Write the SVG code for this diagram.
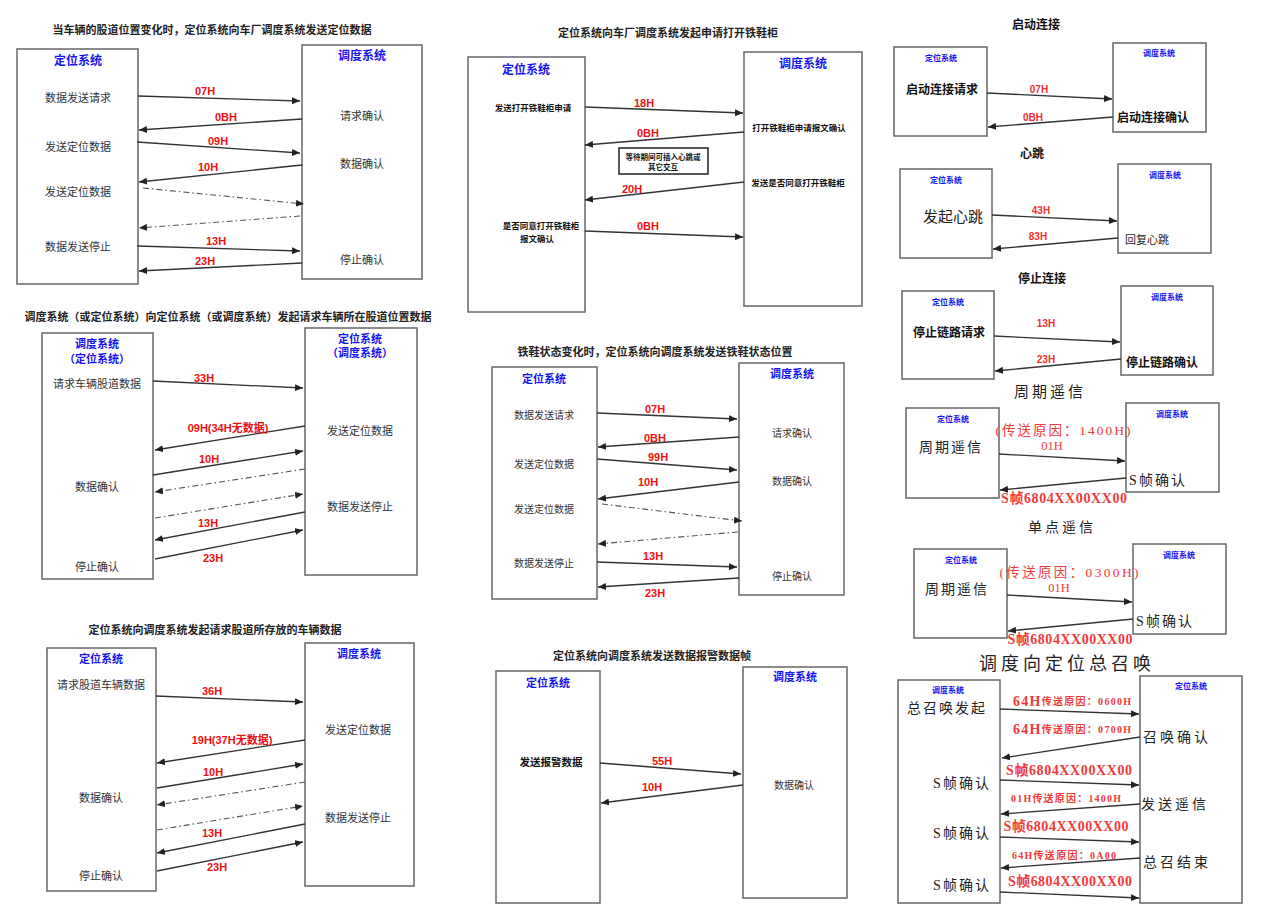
<svg xmlns="http://www.w3.org/2000/svg" width="1269" height="913" viewBox="0 0 1269 913">
<defs>
<marker id="ah" markerUnits="userSpaceOnUse" markerWidth="9" markerHeight="7" refX="8" refY="3.5" orient="auto"><path d="M0,0 L8,3.5 L0,7 z" fill="#222"/></marker>
<style>
text{font-family:"Noto Sans CJK SC",sans-serif;dominant-baseline:central;text-anchor:middle;font-size:11px;fill:#333}
.ttl{font-weight:bold;fill:#222}
.bl{fill:#1414f0;font-weight:bold;font-size:12px}
.bs{fill:#1414f0;font-weight:bold;font-size:8px}
.r{fill:#f01010;font-weight:bold;font-family:"Liberation Sans","Noto Sans CJK SC",sans-serif}
.rs{fill:#f03030;font-weight:bold;font-family:"Liberation Sans",sans-serif;font-size:10px}
.sm{font-size:8.5px;font-weight:bold;fill:#111}
.b12{font-size:12px;font-weight:bold;fill:#111}
.se{font-family:"Liberation Serif","Noto Sans CJK SC",serif;fill:#222}
.rse{font-family:"Liberation Serif","Noto Sans CJK SC",serif;fill:#f03a3a;font-weight:bold}
.box{fill:#fff;stroke:#666;stroke-width:1.5}
.ln{stroke:#333;stroke-width:1.3;fill:none;marker-end:url(#ah)}
.dd{stroke:#555;stroke-width:1.1;fill:none;stroke-dasharray:6 3 1.5 3;marker-end:url(#ah)}
</style>
</defs>
<rect width="1269" height="913" fill="#fff"/>

<!-- Panel 1 -->
<g id="p1">
<text class="ttl" x="212" y="29">当车辆的股道位置变化时，定位系统向车厂调度系统发送定位数据</text>
<rect class="box" x="17" y="49" width="121" height="235"/>
<rect class="box" x="302" y="45" width="120" height="234"/>
<text class="bl" x="78" y="59">定位系统</text>
<text class="bl" x="362" y="54">调度系统</text>
<text x="78" y="97">数据发送请求</text>
<text x="78" y="146">发送定位数据</text>
<text x="78" y="191">发送定位数据</text>
<text x="78" y="246">数据发送停止</text>
<text x="362" y="115">请求确认</text>
<text x="362" y="163">数据确认</text>
<text x="362" y="259">停止确认</text>
</g>

<!-- Panel 2 -->
<g id="p2">
<text class="ttl" x="668" y="32">定位系统向车厂调度系统发起申请打开铁鞋柜</text>
<rect class="box" x="468" y="57" width="117" height="255"/>
<rect class="box" x="744" y="52" width="118" height="254"/>
<text class="bl" x="526" y="68">定位系统</text>
<text class="bl" x="803" y="62">调度系统</text>
<text class="sm" x="533" y="107">发送打开铁鞋柜申请</text>
<text class="sm" x="541" y="225">是否同意打开铁鞋柜</text>
<text class="sm" x="537" y="238">报文确认</text>
<text class="sm" x="799" y="127">打开铁鞋柜申请报文确认</text>
<text class="sm" x="798" y="182">发送是否同意打开铁鞋柜</text>
<rect x="619" y="148" width="89" height="26" fill="#fff" stroke="#222" stroke-width="1.5"/>
<text class="sm" x="663" y="156" style="font-size:7.5px">等待期间可插入心跳或</text>
<text class="sm" x="663" y="166" style="font-size:7.5px">其它交互</text>
</g>

<!-- Panel 3 启动连接 -->
<g id="p3">
<text class="b12" x="1036" y="23">启动连接</text>
<rect class="box" x="894" y="47" width="93" height="89"/>
<rect class="box" x="1113" y="43" width="93" height="89"/>
<text class="bs" x="941" y="57">定位系统</text>
<text class="bs" x="1159" y="52">调度系统</text>
<text class="b12" x="942" y="88">启动连接请求</text>
<text class="b12" x="1153" y="116">启动连接确认</text>
</g>

<!-- Panel 4 心跳 -->
<g id="p4">
<text class="b12" x="1032" y="152">心跳</text>
<rect class="box" x="900" y="169" width="92" height="89"/>
<rect class="box" x="1118" y="164" width="93" height="89"/>
<text class="bs" x="946" y="179">定位系统</text>
<text class="bs" x="1165" y="174">调度系统</text>
<text x="953" y="215" style="font-size:15px;fill:#222">发起心跳</text>
<text x="1147" y="239" style="font-size:11px;fill:#222">回复心跳</text>
</g>

<!-- Panel 5 停止连接 -->
<g id="p5">
<text class="b12" x="1042" y="277">停止连接</text>
<rect class="box" x="902" y="291" width="92" height="88"/>
<rect class="box" x="1121" y="286" width="92" height="89"/>
<text class="bs" x="948" y="301">定位系统</text>
<text class="bs" x="1167" y="296">调度系统</text>
<text class="b12" x="949" y="331">停止链路请求</text>
<text class="b12" x="1162" y="361">停止链路确认</text>
</g>

<!-- Panel 6 周期遥信 -->
<g id="p6">
<text class="se" x="1050" y="392" style="font-size:15px;letter-spacing:3px">周期遥信</text>
<rect class="box" x="906" y="408" width="93" height="90"/>
<rect class="box" x="1126" y="403" width="93" height="89"/>
<text class="bs" x="953" y="418">定位系统</text>
<text class="bs" x="1172" y="413">调度系统</text>
<text class="se" x="951" y="447" style="font-size:14px;letter-spacing:2px">周期遥信</text>
<text class="se" x="1158" y="480" style="font-size:14px;letter-spacing:2px">S帧确认</text>
</g>

<!-- Panel 7 单点遥信 -->
<g id="p7">
<text class="se" x="1062" y="527" style="font-size:14px;letter-spacing:3px">单点遥信</text>
<rect class="box" x="914" y="549" width="93" height="89"/>
<rect class="box" x="1133" y="544" width="93" height="90"/>
<text class="bs" x="961" y="559">定位系统</text>
<text class="bs" x="1179" y="554">调度系统</text>
<text class="se" x="957" y="589" style="font-size:14px;letter-spacing:2px">周期遥信</text>
<text class="se" x="1165" y="621" style="font-size:14px;letter-spacing:2px">S帧确认</text>
</g>

<!-- Panel 8 总召唤 -->
<g id="p8">
<text class="se" x="1067" y="664" style="font-size:18px;letter-spacing:4px">调度向定位总召唤</text>
<rect class="box" x="898" y="680" width="102" height="223"/>
<rect class="box" x="1140" y="676" width="102" height="227"/>
<text class="bs" x="948" y="689">调度系统</text>
<text class="bs" x="1191" y="685">定位系统</text>
<text class="se" x="947" y="708" style="font-size:14px;letter-spacing:2px">总召唤发起</text>
<text class="se" x="1177" y="737" style="font-size:14px;letter-spacing:3px">召唤确认</text>
<text class="se" x="1175" y="804" style="font-size:14px;letter-spacing:3px">发送遥信</text>
<text class="se" x="1177" y="862" style="font-size:14px;letter-spacing:3px">总召结束</text>
<text class="se" x="962" y="783" style="font-size:14px;letter-spacing:2px">S帧确认</text>
<text class="se" x="962" y="833" style="font-size:14px;letter-spacing:2px">S帧确认</text>
<text class="se" x="962" y="885" style="font-size:14px;letter-spacing:2px">S帧确认</text>
</g>

<!-- Panel 9 -->
<g id="p9">
<text class="ttl" x="228" y="316">调度系统（或定位系统）向定位系统（或调度系统）发起请求车辆所在股道位置数据</text>
<rect class="box" x="42" y="333" width="111" height="246"/>
<rect class="box" x="305" y="328" width="112" height="247"/>
<text class="bl" x="97" y="343" style="font-size:11px">调度系统</text>
<text class="bl" x="97" y="358" style="font-size:11px">（定位系统）</text>
<text class="bl" x="360" y="338" style="font-size:11px">定位系统</text>
<text class="bl" x="360" y="352" style="font-size:11px">（调度系统）</text>
<text x="97" y="383">请求车辆股道数据</text>
<text x="97" y="486">数据确认</text>
<text x="97" y="566">停止确认</text>
<text x="360" y="430">发送定位数据</text>
<text x="360" y="506">数据发送停止</text>
</g>

<!-- Panel 10 -->
<g id="p10">
<text class="ttl" x="655" y="351">铁鞋状态变化时，定位系统向调度系统发送铁鞋状态位置</text>
<rect class="box" x="492" y="367" width="105" height="232"/>
<rect class="box" x="739" y="363" width="105" height="232"/>
<text class="bl" x="544" y="378" style="font-size:11px">定位系统</text>
<text class="bl" x="792" y="373" style="font-size:11px">调度系统</text>
<text x="544" y="414" style="font-size:10px">数据发送请求</text>
<text x="544" y="463" style="font-size:10px">发送定位数据</text>
<text x="544" y="508" style="font-size:10px">发送定位数据</text>
<text x="544" y="562" style="font-size:10px">数据发送停止</text>
<text x="792" y="432" style="font-size:10px">请求确认</text>
<text x="792" y="480" style="font-size:10px">数据确认</text>
<text x="792" y="575" style="font-size:10px">停止确认</text>
</g>

<!-- Panel 11 -->
<g id="p11">
<text class="ttl" x="215" y="629">定位系统向调度系统发起请求股道所存放的车辆数据</text>
<rect class="box" x="47" y="648" width="109" height="243"/>
<rect class="box" x="305" y="643" width="109" height="243"/>
<text class="bl" x="101" y="658" style="font-size:11px">定位系统</text>
<text class="bl" x="359" y="653" style="font-size:11px">调度系统</text>
<text x="101" y="684">请求股道车辆数据</text>
<text x="101" y="797">数据确认</text>
<text x="101" y="875">停止确认</text>
<text x="358" y="729">发送定位数据</text>
<text x="358" y="817">数据发送停止</text>
</g>

<!-- Panel 12 -->
<g id="p12">
<text class="ttl" x="652" y="655">定位系统向调度系统发送数据报警数据帧</text>
<rect class="box" x="496" y="671" width="104" height="232"/>
<rect class="box" x="743" y="667" width="104" height="231"/>
<text class="bl" x="548" y="682" style="font-size:11px">定位系统</text>
<text class="bl" x="795" y="676" style="font-size:11px">调度系统</text>
<text x="551" y="761" style="font-weight:bold;fill:#111;font-size:10.5px">发送报警数据</text>
<text x="794" y="784" style="font-size:10px">数据确认</text>
</g>

<g id="connectors">
<!-- p1 -->
<line class="ln" x1="138" y1="96" x2="300" y2="101"/><text class="r" x="205" y="91">07H</text>
<line class="ln" x1="302" y1="119" x2="139" y2="130"/><text class="r" x="226" y="117">0BH</text>
<line class="ln" x1="137" y1="142" x2="300" y2="153"/><text class="r" x="218" y="141">09H</text>
<line class="ln" x1="302" y1="165" x2="139" y2="182"/><text class="r" x="208" y="167">10H</text>
<line class="dd" x1="143" y1="188" x2="304" y2="204"/>
<line class="dd" x1="300" y1="216" x2="139" y2="228"/>
<line class="ln" x1="137" y1="246" x2="300" y2="251"/><text class="r" x="216" y="241">13H</text>
<line class="ln" x1="302" y1="263" x2="139" y2="271"/><text class="r" x="205" y="261">23H</text>
<!-- p2 -->
<line class="ln" x1="585" y1="107" x2="743" y2="113"/><text class="r" x="644" y="103">18H</text>
<line class="ln" x1="744" y1="132" x2="585" y2="145"/><text class="r" x="648" y="133">0BH</text>
<line class="ln" x1="744" y1="182" x2="585" y2="200"/><text class="r" x="632" y="189">20H</text>
<line class="ln" x1="585" y1="231" x2="743" y2="237"/><text class="r" x="648" y="226">0BH</text>
<!-- p3 -->
<line class="ln" x1="987" y1="93" x2="1112" y2="99"/><text class="rs" x="1039" y="89">07H</text>
<line class="ln" x1="1113" y1="117" x2="988" y2="127"/><text class="rs" x="1033" y="117">0BH</text>
<!-- p4 -->
<line class="ln" x1="992" y1="215" x2="1117" y2="221"/><text class="rs" x="1041" y="210">43H</text>
<line class="ln" x1="1118" y1="238" x2="993" y2="249"/><text class="rs" x="1038" y="236">83H</text>
<!-- p5 -->
<line class="ln" x1="994" y1="336" x2="1120" y2="342"/><text class="rs" x="1046" y="323">13H</text>
<line class="ln" x1="1121" y1="359" x2="995" y2="371"/><text class="rs" x="1046" y="359">23H</text>
<!-- p6 -->
<text class="rse" x="1063" y="430" style="font-size:13.5px;font-weight:normal" textLength="135" lengthAdjust="spacing">(传送原因：1400H)</text>
<text class="rse" x="1052" y="446" style="font-size:12.5px;font-weight:normal">01H</text>
<line class="ln" x1="999" y1="454" x2="1125" y2="461"/>
<line class="ln" x1="1126" y1="478" x2="1000" y2="490"/>
<text class="rse" x="1064" y="498" style="font-size:14px" textLength="126" lengthAdjust="spacing">S帧6804XX00XX00</text>
<!-- p7 -->
<text class="rse" x="1069" y="572" style="font-size:13.5px;font-weight:normal" textLength="139" lengthAdjust="spacing">(传送原因：0300H)</text>
<text class="rse" x="1059" y="588" style="font-size:12.5px;font-weight:normal">01H</text>
<line class="ln" x1="1007" y1="595" x2="1132" y2="602"/>
<line class="ln" x1="1133" y1="619" x2="1008" y2="631"/>
<text class="rse" x="1070" y="639" style="font-size:14px" textLength="125" lengthAdjust="spacing">S帧6804XX00XX00</text>
<!-- p8 -->
<text class="rse" x="1072" y="701" textLength="118" lengthAdjust="spacing"><tspan style="font-size:14px">64H</tspan><tspan style="font-size:10px">传送原因：0600H</tspan></text>
<line class="ln" x1="1000" y1="709" x2="1139" y2="714"/>
<text class="rse" x="1072" y="729" textLength="118" lengthAdjust="spacing"><tspan style="font-size:14px">64H</tspan><tspan style="font-size:10px">传送原因：0700H</tspan></text>
<line class="ln" x1="1140" y1="737" x2="1002" y2="758"/>
<text class="rse" x="1069" y="770" style="font-size:14px" textLength="126" lengthAdjust="spacing">S帧6804XX00XX00</text>
<line class="ln" x1="1000" y1="780" x2="1139" y2="785"/>
<text class="rse" x="1066" y="798" style="font-size:10px" textLength="110" lengthAdjust="spacing">01H传送原因：1400H</text>
<line class="ln" x1="1140" y1="804" x2="1001" y2="814"/>
<text class="rse" x="1066" y="826" style="font-size:14px" textLength="125" lengthAdjust="spacing">S帧6804XX00XX00</text>
<line class="ln" x1="1000" y1="837" x2="1139" y2="842"/>
<text class="rse" x="1064" y="855" style="font-size:10px" textLength="104" lengthAdjust="spacing">64H传送原因：0A00</text>
<line class="ln" x1="1140" y1="858" x2="1001" y2="868"/>
<text class="rse" x="1070" y="881" style="font-size:14px" textLength="124" lengthAdjust="spacing">S帧6804XX00XX00</text>
<line class="ln" x1="1000" y1="892" x2="1139" y2="898"/>
<!-- p9 -->
<line class="ln" x1="153" y1="381" x2="303" y2="388"/><text class="r" x="204" y="378">33H</text>
<line class="ln" x1="305" y1="426" x2="155" y2="450"/><text class="r" x="228" y="428">09H(34H无数据)</text>
<line class="ln" x1="153" y1="475" x2="303" y2="451"/><text class="r" x="209" y="459">10H</text>
<line class="dd" x1="305" y1="469" x2="155" y2="492"/>
<line class="dd" x1="155" y1="518" x2="303" y2="494"/>
<line class="ln" x1="305" y1="512" x2="155" y2="540"/><text class="r" x="208" y="523">13H</text>
<line class="ln" x1="155" y1="559" x2="303" y2="530"/><text class="r" x="213" y="558">23H</text>
<!-- p10 -->
<line class="ln" x1="597" y1="413" x2="737" y2="419"/><text class="r" x="655" y="409">07H</text>
<line class="ln" x1="739" y1="437" x2="598" y2="447"/><text class="r" x="655" y="438">0BH</text>
<line class="ln" x1="597" y1="459" x2="737" y2="470"/><text class="r" x="658" y="457">99H</text>
<line class="ln" x1="739" y1="482" x2="598" y2="499"/><text class="r" x="648" y="482">10H</text>
<line class="dd" x1="602" y1="504" x2="742" y2="521"/>
<line class="dd" x1="738" y1="532" x2="598" y2="544"/>
<line class="ln" x1="597" y1="562" x2="737" y2="567"/><text class="r" x="653" y="556">13H</text>
<line class="ln" x1="739" y1="578" x2="598" y2="587"/><text class="r" x="655" y="593">23H</text>
<!-- p11 -->
<line class="ln" x1="156" y1="696" x2="303" y2="702"/><text class="r" x="212" y="691">36H</text>
<line class="ln" x1="305" y1="740" x2="157" y2="763"/><text class="r" x="232" y="740">19H(37H无数据)</text>
<line class="ln" x1="157" y1="788" x2="303" y2="764"/><text class="r" x="213" y="772">10H</text>
<line class="dd" x1="305" y1="782" x2="157" y2="805"/>
<line class="dd" x1="157" y1="830" x2="303" y2="806"/>
<line class="ln" x1="305" y1="824" x2="157" y2="853"/><text class="r" x="212" y="833">13H</text>
<line class="ln" x1="157" y1="871" x2="303" y2="842"/><text class="r" x="217" y="867">23H</text>
<!-- p12 -->
<line class="ln" x1="600" y1="763" x2="741" y2="774"/><text class="r" x="662" y="761">55H</text>
<line class="ln" x1="743" y1="785" x2="601" y2="803"/><text class="r" x="652" y="787">10H</text>
</g>
</svg>
